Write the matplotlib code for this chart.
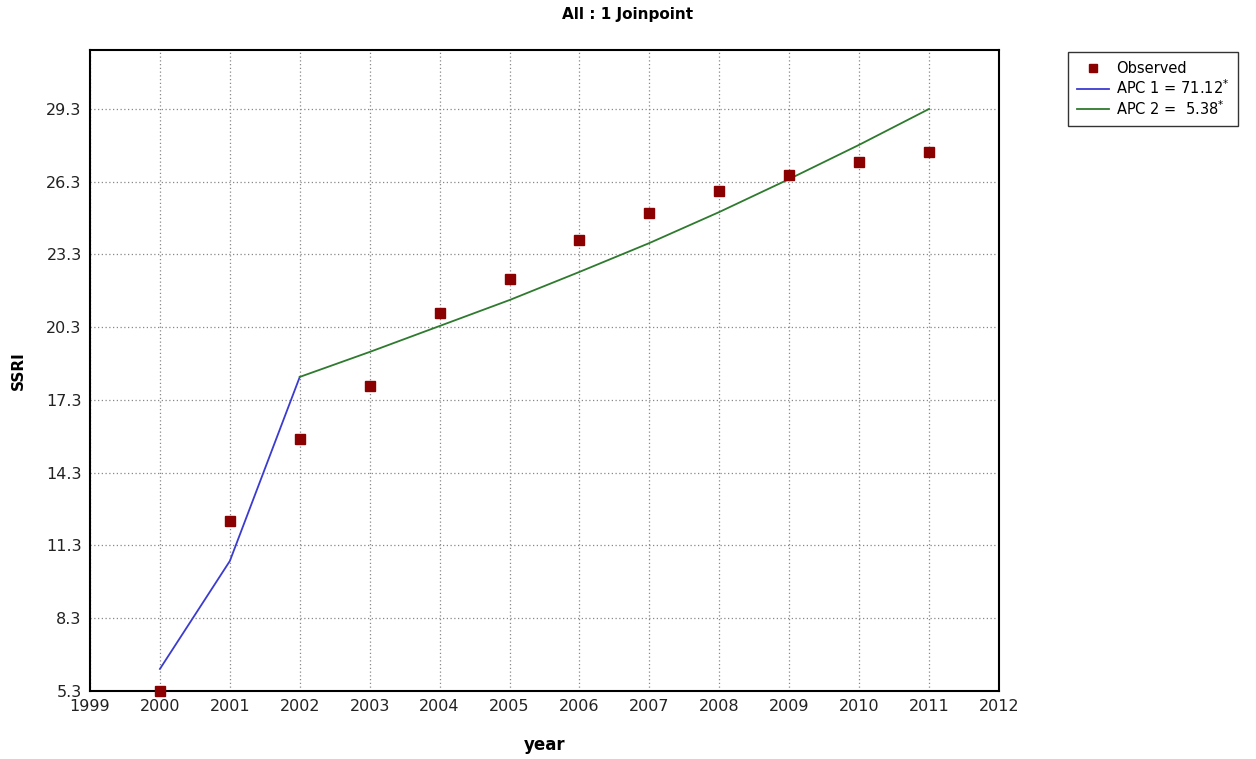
import matplotlib.pyplot as plt

years = [2000, 2001, 2002, 2003, 2004, 2005, 2006, 2007, 2008, 2009, 2010, 2011]
observed = [5.28, 12.31, 15.69, 17.88, 20.89, 22.29, 23.90, 25.01, 25.92, 26.58, 27.11, 27.53]

seg1_years = [2000, 2001, 2002]
seg1_fit = [6.21, 10.66, 18.25]
seg2_years = [2002, 2003, 2004, 2005, 2006, 2007, 2008, 2009, 2010, 2011]
seg2_fit = [18.25, 19.28, 20.35, 21.42, 22.58, 23.77, 25.05, 26.41, 27.82, 29.3]

yticks = [5.3, 8.3, 11.3, 14.3, 17.3, 20.3, 23.3, 26.3, 29.3]
xticks = list(range(1999, 2013))

fig = plt.figure(figsize=(12.56, 7.59), dpi=100)
ax = fig.add_axes([90/1256, 1-691/759, 909/1256, 641/759])

ax.plot(seg1_years, seg1_fit, color="#3b3bd0", lw=1.3, label="APC 1 = 71.12$^{*}$", zorder=3)
ax.plot(seg2_years, seg2_fit, color="#2e7a2e", lw=1.3, label="APC 2 =  5.38$^{*}$", zorder=3)
ax.plot(years, observed, ls="none", marker="s", ms=7, color="#8b0000",
        label="Observed", zorder=4, clip_on=False)

ax.set_xlim(1999, 2012)
ax.set_ylim(5.3, 31.73)
ax.set_xticks(xticks)
ax.set_yticks(yticks)
ax.set_yticklabels([f"{t:.1f}" for t in yticks])
ax.tick_params(length=0, labelsize=11.5, pad=6, colors="#222222")
ax.grid(True, ls=(0, (1, 2)), color="#888888", lw=0.9)
for s in ax.spines.values():
    s.set_linewidth(1.5)

fig.text(0.5, 1-14/759, "All : 1 Joinpoint", fontsize=11, fontweight="bold",
         ha="center", va="center")
ax.set_xlabel("year", fontsize=12, fontweight="bold")
ax.xaxis.set_label_coords(0.5, -(736-691)/641)
ax.set_ylabel("SSRI", fontsize=11, fontweight="bold")
ax.yaxis.set_label_coords(-(90-26)/909, 0.5)

h, l = ax.get_legend_handles_labels()
order = [2, 0, 1]
fig.legend([h[i] for i in order], [l[i] for i in order],
           loc="upper left", bbox_to_anchor=(1068/1256, 1-52/759), borderaxespad=0,
           fontsize=10.5, frameon=True, fancybox=False, edgecolor="black",
           handlelength=2.2, borderpad=0.6, labelspacing=0.15, handletextpad=0.5,
           markerscale=0.8)

fig.savefig("out.png", dpi=100)
